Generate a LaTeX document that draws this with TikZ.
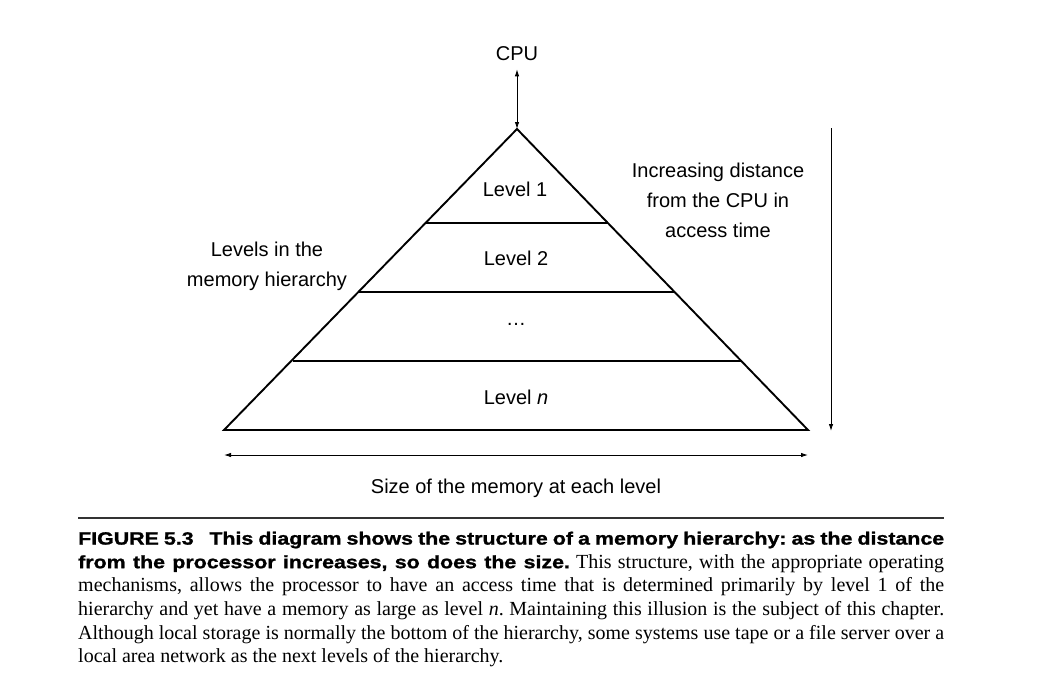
\documentclass[tikz,border=0pt]{standalone}
\usepackage{fontspec}
\setmainfont{Liberation Serif}
\setsansfont{Liberation Sans}
\newfontfamily\capbf{Liberation Sans}[FakeStretch=1.2,FakeBold=1.2]
\usetikzlibrary{arrows.meta}
\begin{document}
\begin{tikzpicture}[x=1pt,y=-1pt,
  lbl/.style={font=\sffamily\fontsize{20}{30}\selectfont, inner sep=0pt, align=center},
  pyr/.style={line width=1.9pt, line join=miter},
  dimarrow/.style={line width=0.9pt, {Latex[length=7pt,width=4.5pt]}-{Latex[length=7pt,width=4.5pt]}},
  onearrow/.style={line width=0.9pt, -{Latex[length=7pt,width=4.5pt]}}]
\useasboundingbox (0,0) rectangle (1056,680);
% pyramid
\coordinate (apex) at (517,129);
\coordinate (bl) at (224,430);
\coordinate (br) at (808,430);
\coordinate (l1a) at (426,223); \coordinate (l1b) at (608,223);
\coordinate (l2a) at (359,292); \coordinate (l2b) at (675,292);
\coordinate (l3a) at (293,361); \coordinate (l3b) at (741,361);
\draw[pyr] (apex) -- (br) -- (bl) -- cycle;
\draw[pyr] (l1a) -- (l1b);
\draw[pyr] (l2a) -- (l2b);
\draw[pyr] (l3a) -- (l3b);
% labels
\node[lbl] (cpu) at (517,54) {CPU};
\node[lbl] (lv1) at (515,189) {Level 1};
\node[lbl] (lv2) at (516,258) {Level 2};
\node[lbl] (lvd) at (516,324) {\dots};
\node[lbl] (lvn) at (516,397) {Level \textit{n}};
\node[lbl] (lvls) at (267,266) {Levels in the\\memory hierarchy};
\node[lbl] (dist) at (718,200) {Increasing distance\\from the CPU in\\access time};
\node[lbl] (size) at (516,488) {Size of the memory at each level};
% arrows
\draw[dimarrow] (cpu.south) ++(0,8) coordinate (cputip) -- (apex);
\coordinate (vt) at (831,128); \coordinate (vb) at (831,431);
\draw[onearrow] (vt) -- (vb);
\coordinate (hl) at (224,455); \coordinate (hr) at (808,455);
\draw[dimarrow] (hl) -- (hr);
% caption
\coordinate (rl) at (78,518); \coordinate (rr) at (944,518);
\draw[line width=1.2pt, black!80] (rl) -- (rr);
\node[anchor=north west, inner sep=0pt, text width=866pt, align=justify,
  font=\fontsize{20}{23.6}\selectfont\frenchspacing] (cap) at (78,531.5) {%
{\capbf\fontsize{17.8}{23.6}\selectfont\bfseries FIGURE 5.3\hspace{0.6em} This diagram shows the structure of a memory hierarchy: as the distance\linebreak
from the processor increases, so does the size.} This structure, with the appropriate operating\linebreak
mechanisms, allows the processor to have an access time that is determined primarily by level 1 of the\linebreak
hierarchy and yet have a memory as large as level \textit{n}. Maintaining this illusion is the subject of this chapter.\linebreak
Although local storage is normally the bottom of the hierarchy, some systems use tape or a file server over a\linebreak
local area network as the next levels of the hierarchy.\par};
\end{tikzpicture}
\end{document}
